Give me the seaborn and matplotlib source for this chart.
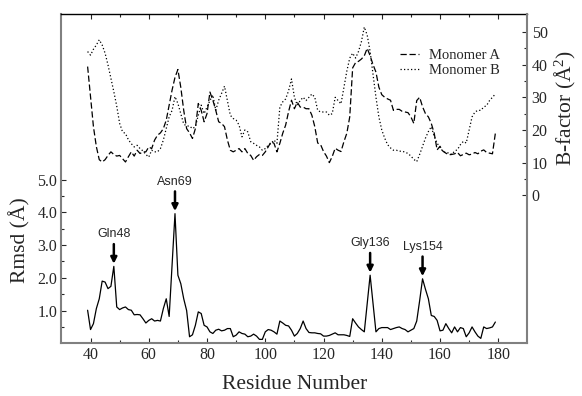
import numpy as np
import pandas as pd
import matplotlib
matplotlib.use("Agg")
import matplotlib.pyplot as plt
import seaborn as sns
from matplotlib.ticker import FixedLocator

residues = list(range(39, 180))
rmsd = [1.01, 0.42, 0.60, 1.06, 1.36, 1.90, 1.87, 1.67, 1.74, 2.35,
        1.11, 1.03, 1.08, 1.11, 1.03, 1.01, 0.87, 0.88, 0.87, 0.75,
        0.62, 0.70, 0.75, 0.68, 0.70, 0.68, 1.06, 1.36, 0.82, 2.40,
        3.96, 2.08, 1.82, 1.36, 1.00, 0.20, 0.26, 0.55, 0.96, 0.91,
        0.55, 0.50, 0.35, 0.30, 0.40, 0.43, 0.38, 0.40, 0.45, 0.45,
        0.20, 0.25, 0.35, 0.30, 0.28, 0.20, 0.22, 0.28, 0.22, 0.12,
        0.12, 0.35, 0.42, 0.40, 0.35, 0.28, 0.68, 0.62, 0.55, 0.53,
        0.40, 0.22, 0.30, 0.45, 0.68, 0.45, 0.33, 0.32, 0.32, 0.30,
        0.29, 0.22, 0.22, 0.24, 0.28, 0.32, 0.26, 0.26, 0.26, 0.24,
        0.21, 0.75, 0.62, 0.50, 0.42, 0.35, 1.20, 2.08, 1.20, 0.35,
        0.45, 0.48, 0.48, 0.48, 0.42, 0.45, 0.48, 0.50, 0.45, 0.42,
        0.35, 0.40, 0.45, 0.68, 1.30, 1.97, 1.65, 1.36, 0.85, 0.82,
        0.70, 0.38, 0.40, 0.60, 0.45, 0.32, 0.50, 0.35, 0.48, 0.45,
        0.20, 0.32, 0.50, 0.35, 0.22, 0.15, 0.50, 0.45, 0.47, 0.50,
        0.65]
bfactor_a = [39.4, 30.2, 21.0, 14.9, 10.9, 10.2, 10.9, 12.2, 13.3, 12.5,
             12.0, 12.2, 11.2, 10.2, 11.8, 13.3, 12.0, 13.8, 12.8, 13.3,
             13.3, 14.8, 14.3, 16.9, 18.4, 19.1, 20.4, 23.0, 27.6, 32.2,
             36.1, 38.5, 33.0, 26.0, 20.4, 19.1, 17.4, 20.4, 28.1, 26.0,
             22.5, 25.0, 31.6, 29.1, 26.0, 22.5, 22.0, 21.0, 16.9, 13.8,
             13.3, 13.8, 14.3, 13.3, 14.3, 12.8, 12.2, 10.7, 11.8, 12.5,
             12.2, 13.3, 14.8, 16.4, 15.9, 13.3, 15.9, 19.0, 21.5, 25.6,
             29.1, 26.5, 28.5, 27.0, 27.0, 26.5, 26.5, 24.5, 21.0, 16.0,
             15.5, 13.4, 12.0, 10.0, 11.9, 14.4, 13.8, 13.4, 16.4, 19.0,
             24.0, 39.0, 40.6, 41.0, 41.7, 42.7, 45.0, 42.7, 40.0, 37.7,
             33.1, 30.8, 30.0, 29.5, 29.1, 26.0, 26.3, 26.3, 25.7, 25.5,
             25.3, 24.0, 22.0, 29.0, 30.0, 27.1, 25.0, 24.0, 22.0, 19.0,
             13.9, 15.0, 13.5, 12.9, 12.4, 12.5, 12.7, 13.1, 12.1, 12.5,
             12.9, 12.4, 12.6, 13.1, 12.7, 13.5, 13.9, 13.1, 12.9, 12.7,
             19.0]
bfactor_b = [44.0, 42.9, 44.7, 46.0, 47.6, 46.0, 43.5, 39.9, 35.8, 31.7,
             27.3, 22.0, 19.4, 18.9, 17.0, 15.8, 14.8, 15.3, 14.3, 13.6,
             12.5, 11.7, 13.8, 13.3, 13.3, 14.3, 16.9, 20.4, 24.0, 26.0,
             30.2, 28.1, 25.0, 21.8, 21.2, 21.2, 20.4, 21.0, 24.5, 27.6,
             25.0, 27.0, 29.0, 30.7, 26.0, 29.1, 31.2, 33.4, 29.0, 24.5,
             23.5, 23.0, 21.5, 17.9, 20.0, 19.4, 16.4, 15.9, 15.3, 14.8,
             13.8, 14.3, 15.3, 15.9, 16.9, 15.9, 27.0, 28.6, 29.5, 32.0,
             35.6, 30.0, 27.6, 29.0, 30.0, 29.0, 30.0, 31.0, 30.0, 26.0,
             25.5, 25.5, 25.5, 24.5, 25.0, 30.0, 29.0, 28.0, 33.0, 38.0,
             42.0, 43.5, 42.0, 44.0, 47.0, 51.5, 49.0, 44.0, 37.0, 30.0,
             24.0, 20.0, 17.5, 15.5, 14.5, 13.8, 13.8, 13.5, 13.5, 13.2,
             12.8, 12.0, 11.0, 10.3, 12.5, 15.0, 17.5, 19.5, 21.0, 18.0,
             16.0, 14.5, 13.5, 13.0, 13.0, 12.5, 13.5, 14.0, 15.5, 16.5,
             16.0, 20.0, 24.0, 25.5, 26.0, 26.0, 27.0, 27.5, 29.0, 30.0,
             31.0]

peak_labels = ["Gln48", "Asn69", "Gly136", "Lys154"]
peak_residues = [48, 69, 136, 154]

x_major = [40, 60, 80, 100, 120, 140, 160, 180]
x_minor = [50, 70, 90, 110, 130, 150, 170]
rmsd_ticks = [1.0, 2.0, 3.0, 4.0, 5.0]
rmsd_minor = [0.5, 1.5, 2.5, 3.5, 4.5]
bfac_ticks = [0, 10, 20, 30, 40, 50]
bfac_minor = [5, 15, 25, 35, 45]

sns.set_style("ticks")
plt.rcParams["font.family"] = ["Liberation Serif", "DejaVu Serif"]
plt.rcParams["mathtext.fontset"] = "custom"
plt.rcParams["mathtext.rm"] = "Liberation Serif"
plt.rcParams["mathtext.it"] = "Liberation Serif:italic"

fig = plt.figure(figsize=(5.82, 3.96), dpi=100)
W, H = 582, 396
L, R, T, B = 61.4, 527.4, 14.3, 343.3
ax = fig.add_axes([L / W, 1 - B / H, (R - L) / W, (B - T) / H])
ax2 = ax.twinx()

df_r = pd.DataFrame({"residue": residues, "rmsd": rmsd})
df_b = pd.DataFrame({"residue": residues, "A": bfactor_a, "B": bfactor_b})

sns.lineplot(data=df_r, x="residue", y="rmsd", ax=ax, color="black",
             lw=0.9, errorbar=None)
sns.lineplot(data=df_b, x="residue", y="A", ax=ax2, color="black", lw=0.9,
             errorbar=None, linestyle=(0, (5, 2.2)), label="Monomer A")
sns.lineplot(data=df_b, x="residue", y="B", ax=ax2, color="black", lw=0.9,
             errorbar=None, linestyle=(0, (1, 1.8)), label="Monomer B")

ax.set_xlim(30, 190)
ax.set_ylim(0, 10.05)
ax2.set_ylim(-45.3, 55.4)

ax.xaxis.set_major_locator(FixedLocator(x_major))
ax.xaxis.set_minor_locator(FixedLocator(x_minor))
ax.set_xticklabels([str(v) for v in x_major])
ax.yaxis.set_major_locator(FixedLocator(rmsd_ticks))
ax.yaxis.set_minor_locator(FixedLocator(rmsd_minor))
ax.set_yticklabels([f"{v:.1f}" for v in rmsd_ticks])
ax2.yaxis.set_major_locator(FixedLocator(bfac_ticks))
ax2.yaxis.set_minor_locator(FixedLocator(bfac_minor))
ax2.set_yticklabels([str(v) for v in bfac_ticks])

tick_fs = 11.5
ax.tick_params(axis="both", which="major", direction="in", length=3.5,
               width=0.8, labelsize=tick_fs, pad=3, top=True, right=False)
ax.tick_params(axis="both", which="minor", direction="in", length=2.2,
               width=0.8, top=True, right=False)
ax.tick_params(axis="x", which="both", top=True)
ax2.tick_params(axis="y", which="major", direction="in", length=3.5,
                width=0.8, labelsize=tick_fs, pad=3)
ax2.tick_params(axis="y", which="minor", direction="in", length=2.2,
                width=0.8)

for a in (ax, ax2):
    for s in a.spines.values():
        s.set_visible(False)
gray = "#808080"
ax.spines["left"].set_visible(True)
ax.spines["left"].set_color(gray)
ax.spines["left"].set_linewidth(1.5)
ax.spines["bottom"].set_visible(True)
ax.spines["bottom"].set_color(gray)
ax.spines["bottom"].set_linewidth(1.5)
ax.spines["top"].set_visible(True)
ax.spines["top"].set_color("black")
ax.spines["top"].set_linewidth(1.0)
ax2.spines["right"].set_visible(True)
ax2.spines["right"].set_color(gray)
ax2.spines["right"].set_linewidth(1.5)

ax.set_xlabel("Residue Number", fontsize=15.5)
ax.xaxis.set_label_coords(0.5, -0.096)
ax.set_ylabel("Rmsd (Å)", fontsize=15.5)
ax.yaxis.set_label_coords(-0.067, 0.314)
ax2.set_ylabel("B-factor (Å$^2$)", fontsize=15.5, rotation=90)
ax2.yaxis.set_label_coords(1.055, 0.715)

rmsd_lookup = dict(zip(residues, rmsd))
for lab, res in zip(peak_labels, peak_residues):
    pk = rmsd_lookup[res]
    ax.annotate("", xy=(res, pk + 0.08), xytext=(res, pk + 0.68),
                arrowprops=dict(arrowstyle="-|>", color="black", lw=1.8,
                                mutation_scale=9, shrinkA=0, shrinkB=0))
    ax.text(res, pk + 0.98, lab, ha="center", va="center", fontsize=9,
            family=["Liberation Sans", "DejaVu Sans"])

leg = ax2.legend(loc="upper left", bbox_to_anchor=(0.727, 0.895),
                 frameon=False, fontsize=10.5, handlelength=1.3,
                 handletextpad=0.7, labelspacing=0.15, borderpad=0,
                 borderaxespad=0)
ax.set_zorder(ax2.get_zorder() - 1)
ax.patch.set_visible(False)
ax2.patch.set_visible(False)

fig.savefig("out.png", dpi=100)
